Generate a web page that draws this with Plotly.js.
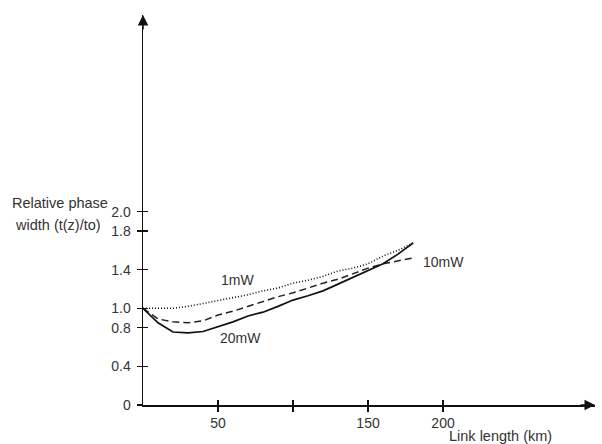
<!DOCTYPE html>
<html>
<head>
<meta charset="utf-8">
<script src="https://cdn.plot.ly/plotly-3.0.1.min.js"></script>
<style>html,body{margin:0;padding:0;background:#fff;}#chart{width:602px;height:444px;}</style>
</head>
<body>
<div id="chart"></div>
<script>
// Link length (km)
var linkLength = [0, 10, 20, 30, 40, 50, 60, 70, 80, 90, 100, 110, 120, 130, 140, 150, 160, 170, 180];
// Relative phase width t(z)/t0
var width1mW  = [1.0, 1.0, 1.0, 1.02, 1.05, 1.075, 1.105, 1.14, 1.18, 1.21, 1.26, 1.29, 1.33, 1.385, 1.415, 1.46, 1.54, 1.60, 1.675];
var width10mW = [1.0, 0.89, 0.86, 0.85, 0.87, 0.93, 0.97, 1.02, 1.075, 1.12, 1.16, 1.21, 1.26, 1.30, 1.355, 1.415, 1.46, 1.49, 1.52];
var width20mW = [1.0, 0.85, 0.755, 0.745, 0.76, 0.81, 0.86, 0.92, 0.96, 1.02, 1.085, 1.13, 1.18, 1.25, 1.32, 1.385, 1.46, 1.56, 1.675];
var seriesNames = ["1mW", "10mW", "20mW"];
var xTickVals = [50, 100, 150, 200];
var xTickText = ["50", "", "150", "200"];
var yTickVals = [0, 0.4, 0.8, 1.0, 1.4, 1.8, 2.0];
var yTickText = ["0", "0.4", "0.8", "1.0", "1.4", "1.8", "2.0"];
var yTitleLines = ["Relative phase", "width (t(z)/to)"];
var xTitle = "Link length (km)";

var FONT = "Liberation Sans, Arial, Helvetica, sans-serif";
var TXT = "#333";
var XMAX = 301.3, YMAX = 4.033;

var traces = [
  {x: linkLength, y: width1mW, name: seriesNames[0], mode: "lines", line: {color: "#111", width: 1.6, dash: "1px,2px"}},
  {x: linkLength, y: width10mW, name: seriesNames[1], mode: "lines", line: {color: "#222", width: 1.5, dash: "7px,4px"}},
  {x: linkLength, y: width20mW, name: seriesNames[2], mode: "lines", line: {color: "#111", width: 1.7}},
  {x: [], y: [], xaxis: "x2", yaxis: "y2", mode: "lines", showlegend: false, hoverinfo: "skip"}
];

var axCommon = {showgrid: false, zeroline: false, tickcolor: "#111", tickwidth: 1.3, ticklen: 5,
  tickfont: {family: FONT, size: 14, color: TXT}};

var layout = {
  width: 602, height: 444,
  margin: {l: 143, r: 7, t: 15, b: 39, pad: 0},
  paper_bgcolor: "#fff", plot_bgcolor: "#fff",
  showlegend: false,
  font: {family: FONT, color: TXT},
  xaxis: Object.assign({}, axCommon, {range: [0, XMAX], showline: true, linecolor: "#111", linewidth: 1.5,
    ticks: "outside", tickmode: "array", tickvals: xTickVals, ticktext: xTickText}),
  yaxis: Object.assign({}, axCommon, {range: [0, YMAX], showline: true, linecolor: "#111", linewidth: 1.5,
    ticks: "outside", tickmode: "array", tickvals: yTickVals, ticktext: yTickText, ticklabelstandoff: 3}),
  xaxis2: Object.assign({}, axCommon, {range: [0, XMAX], overlaying: "x", anchor: "y", side: "bottom",
    ticks: "inside", tickmode: "array", tickvals: xTickVals, showticklabels: false, showline: false}),
  yaxis2: Object.assign({}, axCommon, {range: [0, YMAX], overlaying: "y", anchor: "x", side: "left",
    ticks: "inside", tickmode: "array", tickvals: yTickVals, showticklabels: false, showline: false}),
  annotations: [
    {x: XMAX, y: 0, xref: "x", yref: "y", ax: -16, ay: 0, showarrow: true, arrowhead: 2, arrowsize: 1.4, arrowwidth: 1.5, arrowcolor: "#111", text: ""},
    {x: 0, y: YMAX, xref: "x", yref: "y", ax: 0, ay: 16, showarrow: true, arrowhead: 2, arrowsize: 1.4, arrowwidth: 1.5, arrowcolor: "#111", text: ""},
    {x: 62.7, y: 1.293, xref: "x", yref: "y", text: seriesNames[0], showarrow: false, font: {family: FONT, size: 14, color: TXT}},
    {x: 200, y: 1.479, xref: "x", yref: "y", text: seriesNames[1], showarrow: false, font: {family: FONT, size: 14, color: TXT}},
    {x: 65.3, y: 0.693, xref: "x", yref: "y", text: seriesNames[2], showarrow: false, font: {family: FONT, size: 14, color: TXT}},
    {x: -0.2942, y: 0.518, xref: "paper", yref: "paper", xanchor: "left", yanchor: "middle", text: yTitleLines[0], showarrow: false, font: {family: FONT, size: 14.5, color: TXT}},
    {x: -0.2876, y: 0.4615, xref: "paper", yref: "paper", xanchor: "left", yanchor: "middle", text: yTitleLines[1], showarrow: false, font: {family: FONT, size: 14.5, color: TXT}},
    {x: 0.6726, y: -0.0795, xref: "paper", yref: "paper", xanchor: "left", yanchor: "middle", text: xTitle, showarrow: false, font: {family: FONT, size: 14.5, color: TXT}}
  ]
};

Plotly.newPlot("chart", traces, layout, {staticPlot: true, displayModeBar: false});
</script>
</body>
</html>
